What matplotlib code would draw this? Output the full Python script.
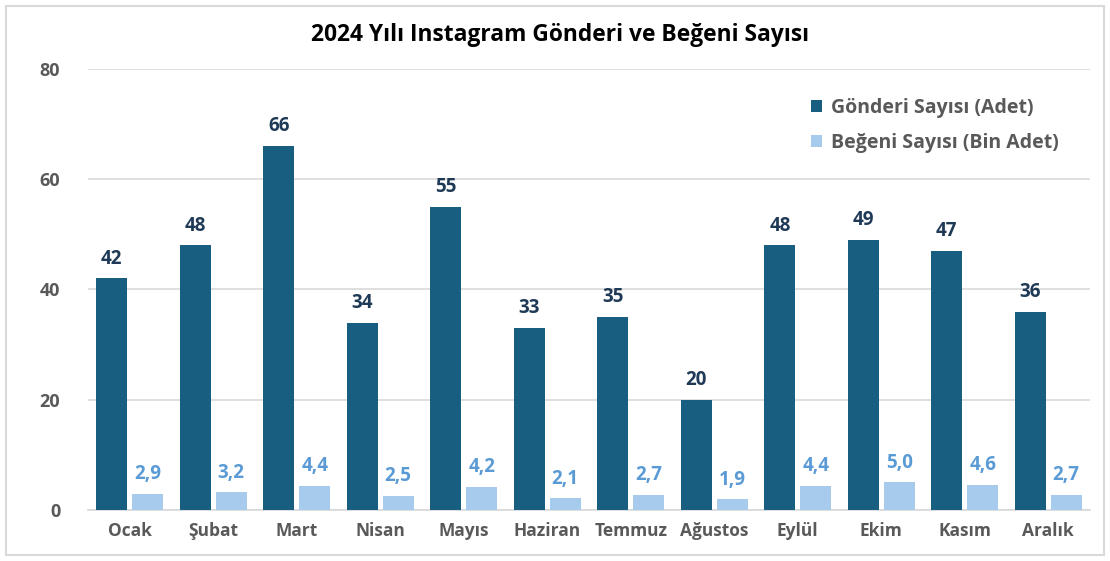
import matplotlib
matplotlib.use("Agg")
import matplotlib.pyplot as plt
import numpy as np
from matplotlib.patches import Rectangle

months = ["Ocak", "Şubat", "Mart", "Nisan", "Mayıs", "Haziran", "Temmuz",
          "Ağustos", "Eylül", "Ekim", "Kasım", "Aralık"]
posts = [42, 48, 66, 34, 55, 33, 35, 20, 48, 49, 47, 36]
likes = [2.9, 3.2, 4.4, 2.5, 4.2, 2.1, 2.7, 1.9, 4.4, 5.0, 4.6, 2.7]
series_names = ["Gönderi Sayısı (Adet)", "Beğeni Sayısı (Bin Adet)"]
title = "2024 Yılı Instagram Gönderi ve Beğeni Sayısı"

plt.rcParams['font.family'] = ['Open Sans', 'DejaVu Sans']

dark = "#175E80"
light = "#A7CBEC"
dark_lbl = "#1F3A56"
light_lbl = "#5B9BD5"
tick_col = "#595959"

fig = plt.figure(figsize=(11.1, 5.61), dpi=100)
fig.patches.append(Rectangle((0.005, 0.01), 0.99, 0.98, transform=fig.transFigure,
                             fill=False, edgecolor="#D9D9D9", linewidth=1.5))
ax = fig.add_axes([0.0793, 0.091, 0.9027, 0.786])

x = np.arange(len(months))
w = 0.37
gap = 0.06
b1 = ax.bar(x - (w + gap) / 2, posts, w, color=dark, label=series_names[0], zorder=3)
b2 = ax.bar(x + (w + gap) / 2, likes, w, color=light, label=series_names[1], zorder=3)

for r, v in zip(b1, posts):
    ax.annotate(str(v), (r.get_x() + r.get_width() / 2, v), xytext=(0, 7),
                textcoords="offset points", ha="center", va="bottom",
                fontsize=13.5, fontweight="bold", color=dark_lbl)
for r, v in zip(b2, likes):
    ax.annotate(f"{v:.1f}".replace(".", ","), (r.get_x() + r.get_width() / 2, v),
                xytext=(0, 7), textcoords="offset points", ha="center", va="bottom",
                fontsize=13.5, fontweight="bold", color=light_lbl)

ax.set_ylim(0, 80)
ax.set_xlim(-0.5, len(months) - 0.5)
ax.set_yticks([0, 20, 40, 60, 80])
ax.yaxis.grid(True, color="#D9D9D9", linewidth=1.2, zorder=0)
ax.set_axisbelow(True)
for s in ["top", "right", "left"]:
    ax.spines[s].set_visible(False)
ax.spines["bottom"].set_color("#D9D9D9")
ax.spines["bottom"].set_linewidth(1.2)
ax.tick_params(axis="both", length=0, colors=tick_col, labelsize=12.5)
ax.tick_params(axis="y", labelsize=13, pad=20)
ax.tick_params(axis="x", pad=9)
ax.set_xticks(x)
ax.set_xticklabels(months, fontweight="bold")
for t in ax.get_yticklabels():
    t.set_fontweight("bold")

fig.text(0.505, 0.938, title, ha="center", va="center", fontsize=16.4,
         fontweight="bold", color="black")

leg = ax.legend(loc="upper left", bbox_to_anchor=(0.722, 0.935), frameon=False,
                borderaxespad=0, borderpad=0,
                fontsize=14, handlelength=0.55, handleheight=0.55,
                handletextpad=0.45, labelspacing=0.8)
for t in leg.get_texts():
    t.set_color(tick_col)
    t.set_fontweight("bold")

fig.savefig("out.png", dpi=100)
